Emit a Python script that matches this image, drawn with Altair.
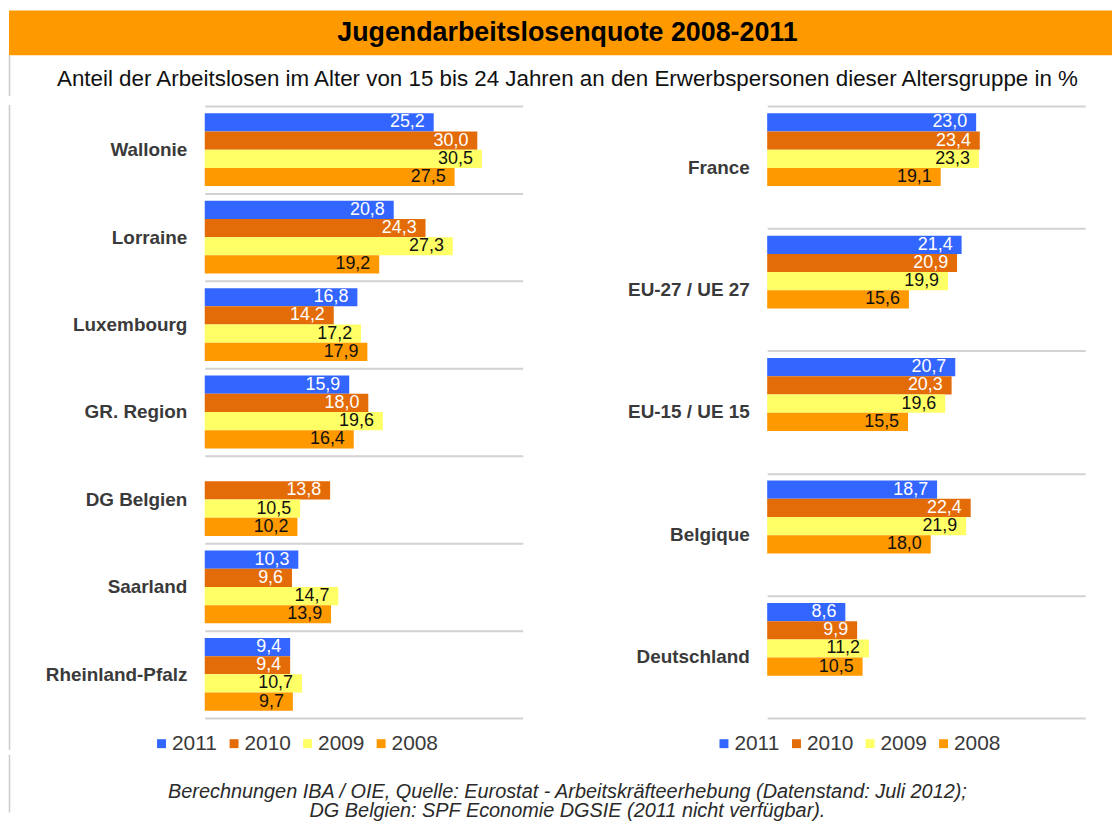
import altair as alt
import pandas as pd

FONT = "Liberation Sans"

TITLE = ["Jugendarbeitslosenquote 2008-2011"]
SUBTITLE = ["Anteil der Arbeitslosen im Alter von 15 bis 24 Jahren an den Erwerbspersonen dieser Altersgruppe in %"]
FOOTNOTE = [
    "Berechnungen IBA / OIE, Quelle: Eurostat - Arbeitskräfteerhebung (Datenstand: Juli 2012);",
    "DG Belgien: SPF Economie DGSIE (2011 nicht verfügbar).",
]

years = ["2011", "2010", "2009", "2008"]
year_colors = ["#3366FF", "#E36C09", "#FFFF66", "#FF9900"]

left_regions = ["Wallonie", "Lorraine", "Luxembourg", "GR. Region", "DG Belgien", "Saarland", "Rheinland-Pfalz"]
left_2011 = [25.2, 20.8, 16.8, 15.9, None, 10.3, 9.4]
left_2010 = [30.0, 24.3, 14.2, 18.0, 13.8, 9.6, 9.4]
left_2009 = [30.5, 27.3, 17.2, 19.6, 10.5, 14.7, 10.7]
left_2008 = [27.5, 19.2, 17.9, 16.4, 10.2, 13.9, 9.7]

right_regions = ["France", "EU-27 / UE 27", "EU-15 / UE 15", "Belgique", "Deutschland"]
right_2011 = [23.0, 21.4, 20.7, 18.7, 8.6]
right_2010 = [23.4, 20.9, 20.3, 22.4, 9.9]
right_2009 = [23.3, 19.9, 19.6, 21.9, 11.2]
right_2008 = [19.1, 15.6, 15.5, 18.0, 10.5]


def long_table(regions, series):
    rows = []
    for yr, vals in zip(years, series):
        for r, v in zip(regions, vals):
            if v is not None:
                rows.append({"region": r, "year": yr, "value": v})
    return pd.DataFrame(rows)


left_df = long_table(left_regions, [left_2011, left_2010, left_2009, left_2008])
right_df = long_table(right_regions, [right_2011, right_2010, right_2009, right_2008])

PANEL_W = 320
PANEL_H = 616
GRID = "#D2D2D2"
EDGE = "#CCCCCC"
ORIGIN = 197  # distance from page-left content edge to left panel plot origin


def panel(df, regions, extent, frame=False):
    y = alt.Y(
        "region:N",
        sort=regions,
        scale=alt.Scale(domain=regions, paddingInner=0, paddingOuter=0),
        axis=alt.Axis(
            title=None, labelFont=FONT, labelFontSize=19, labelFontWeight="bold",
            labelColor="#3A3A3A", labelPadding=18, ticks=False, domain=False,
            grid=True, gridColor=GRID, gridWidth=2, tickBand="extent",
            minExtent=extent, maxExtent=extent, labelLimit=400,
        ),
    )
    yoff = alt.YOffset(
        "year:N", sort=years,
        scale=alt.Scale(domain=years, paddingInner=0, paddingOuter=0.4),
    )
    x = alt.X("value:Q", scale=alt.Scale(domain=[0, 35]), axis=None)
    color = alt.Color(
        "year:N", sort=years,
        scale=alt.Scale(domain=years, range=year_colors),
        legend=alt.Legend(
            title=None, orient="none", legendX=-54, legendY=631,
            direction="horizontal", symbolType="square", symbolSize=81,
            symbolStrokeWidth=0, symbolOpacity=1, labelFont=FONT, labelFontSize=21,
            labelColor="#3A3A3A", labelOffset=0, columnPadding=6, padding=0,
        ),
    )
    bars = alt.Chart(df).mark_bar(opacity=1).encode(y=y, yOffset=yoff, x=x, color=color)
    labels = (
        alt.Chart(df)
        .transform_calculate(lbl="replace(format(datum.value, '.1f'), '.', ',')")
        .mark_text(align="right", baseline="middle", dx=-9, font=FONT, fontSize=18)
        .encode(
            y=y, yOffset=yoff, x=x, text="lbl:N",
            color=alt.condition(
                "datum.year == '2011' || datum.year == '2010'",
                alt.value("#FFFFFF"), alt.value("#111111"),
            ),
        )
    )
    layers = [bars, labels]
    if frame:
        edge = alt.Chart(pd.DataFrame({"f": [0]})).mark_rule(color=EDGE, strokeWidth=1.5).encode(
            x=alt.value(-ORIGIN + 0.5), y=alt.value(-1), y2=alt.value(648)
        )
        layers.append(edge)
    return alt.layer(*layers).properties(width=PANEL_W, height=PANEL_H)


left = panel(left_df, left_regions, ORIGIN, frame=True)
right = panel(right_df, right_regions, 150)

panels = alt.hconcat(left, right, spacing=96).resolve_scale(color="independent").resolve_legend(color="independent")

RIGHT_END = 1110 - ORIGIN   # banner right edge relative to origin
CENTER_X = 562 - ORIGIN     # text centre relative to origin
BANNER_H = 86

one = pd.DataFrame({"f": [0]})
banner_bg = alt.Chart(one).mark_rect(color="#FF9900").encode(
    x=alt.value(-ORIGIN), x2=alt.value(RIGHT_END), y=alt.value(0), y2=alt.value(45)
)
banner_edge = alt.Chart(one).mark_rule(color=EDGE, strokeWidth=1.5).encode(
    x=alt.value(-ORIGIN + 0.5), y=alt.value(45), y2=alt.value(BANNER_H)
)
title_txt = alt.Chart(pd.DataFrame({"t": TITLE})).mark_text(
    font=FONT, fontSize=27, fontWeight="bold", color="#000000", align="center", baseline="middle"
).encode(text="t:N", x=alt.value(CENTER_X), y=alt.value(23))
sub_txt = alt.Chart(pd.DataFrame({"t": SUBTITLE})).mark_text(
    font=FONT, fontSize=22.5, color="#111111", align="center", baseline="middle"
).encode(text="t:N", x=alt.value(CENTER_X), y=alt.value(69))
banner = alt.layer(banner_bg, banner_edge, title_txt, sub_txt).properties(width=RIGHT_END, height=BANNER_H)

foot_edge = alt.Chart(one).mark_rule(color=EDGE, strokeWidth=1.5).encode(
    x=alt.value(-ORIGIN + 0.5), y=alt.value(0), y2=alt.value(58)
)
foot1 = alt.Chart(pd.DataFrame({"t": FOOTNOTE[:1]})).mark_text(
    font=FONT, fontSize=20, fontStyle="italic", color="#2A2A2A", align="center", baseline="middle"
).encode(text="t:N", x=alt.value(CENTER_X), y=alt.value(37))
foot2 = alt.Chart(pd.DataFrame({"t": FOOTNOTE[1:]})).mark_text(
    font=FONT, fontSize=20, fontStyle="italic", color="#2A2A2A", align="center", baseline="middle"
).encode(text="t:N", x=alt.value(CENTER_X), y=alt.value(57))
footer = alt.layer(foot_edge, foot1, foot2).properties(width=RIGHT_END, height=58)

chart = (
    alt.vconcat(banner, panels, footer, spacing=0)
    .properties(padding=0, background="#FFFFFF")
    .configure_view(stroke=None)
    .configure_concat(spacing=0)
)

chart.save("out.html", embed_options={"renderer": "svg", "actions": False})
